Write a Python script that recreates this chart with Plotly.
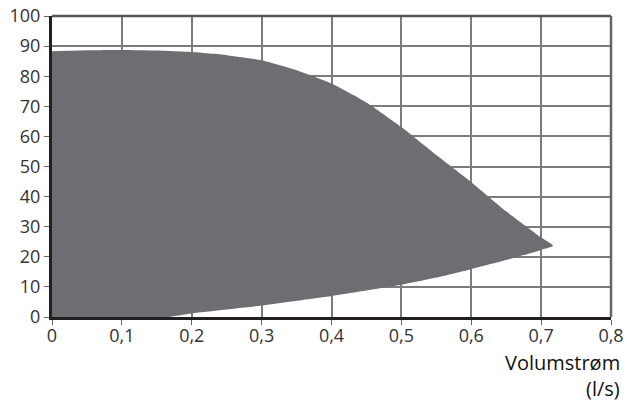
import plotly.graph_objects as go

# Upper boundary of the working area (flow l/s, head)
upper_x = [0, 0.05, 0.1, 0.15, 0.2, 0.25, 0.3, 0.35, 0.4, 0.45, 0.5, 0.55, 0.6, 0.65, 0.7, 0.717]
upper_y = [88.3, 88.6, 88.7, 88.5, 88.0, 87.0, 85.3, 82.0, 77.6, 71.3, 63.1, 53.8, 44.8, 35.1, 26.4, 23.7]

# Lower boundary (from the tip back to the origin)
lower_x = [0.7, 0.65, 0.6, 0.55, 0.5, 0.45, 0.4, 0.35, 0.3, 0.25, 0.2, 0.164, 0.1, 0]
lower_y = [22.3, 18.9, 15.9, 13.1, 10.7, 8.8, 7.0, 5.4, 3.8, 2.5, 1.2, 0, 0, 0]

x_tickvals = [0, 0.1, 0.2, 0.3, 0.4, 0.5, 0.6, 0.7, 0.8]
x_ticktext = ["0", "0,1", "0,2", "0,3", "0,4", "0,5", "0,6", "0,7", "0,8"]
y_tickvals = [0, 10, 20, 30, 40, 50, 60, 70, 80, 90, 100]

x_title_line1 = "Volumstrøm"
x_title_line2 = "(l/s)"

fig = go.Figure()
fig.add_trace(go.Scatter(
    x=upper_x + lower_x,
    y=upper_y + lower_y,
    mode="lines",
    fill="toself",
    fillcolor="#6d6e71",
    line=dict(color="#6d6e71", width=0, shape="spline", smoothing=0.5),
    hoverinfo="skip",
    showlegend=False,
))

font_family = "Open Sans, Noto Sans, sans-serif"

axis_common = dict(
    showgrid=True, gridcolor="#7c7c7c", gridwidth=1.5,
    showline=True, linecolor="#231f20", linewidth=3,
    ticks="outside", ticklen=5, tickcolor="#666666", tickwidth=1,
    zeroline=False, fixedrange=True, automargin=False,
    tickfont=dict(family=font_family, size=18, color="#333333"),
)

fig.update_layout(
    width=627, height=403,
    margin=dict(l=52, r=16, t=16, b=86, autoexpand=False),
    paper_bgcolor="white",
    plot_bgcolor="white",
    font=dict(family=font_family, size=18, color="#333333"),
    xaxis=dict(range=[0, 0.8], tickvals=x_tickvals, ticktext=x_ticktext,
               ticklabelstandoff=-5, **axis_common),
    yaxis=dict(range=[0, 100], tickvals=y_tickvals, **axis_common),
    shapes=[
        dict(type="line", xref="paper", yref="paper", x0=0, x1=1, y0=1, y1=1,
             line=dict(color="#555555", width=2.5)),
        dict(type="line", xref="paper", yref="paper", x0=1, x1=1, y0=0, y1=1,
             line=dict(color="#666666", width=2.5)),
    ],
    annotations=[
        dict(text=x_title_line1, xref="paper", yref="paper", x=1, y=0,
             xanchor="right", yanchor="middle", align="right",
             xshift=11, yshift=-45, showarrow=False,
             font=dict(family=font_family, size=20, color="#111111")),
        dict(text=x_title_line2, xref="paper", yref="paper", x=1, y=0,
             xanchor="right", yanchor="middle", align="right",
             xshift=11, yshift=-71, showarrow=False,
             font=dict(family=font_family, size=20, color="#111111")),
    ],
)

fig.write_html(
    "out.html",
    config={"displayModeBar": False},
    post_script="document.body.style.margin='0px';document.body.style.padding='0px';",
)
